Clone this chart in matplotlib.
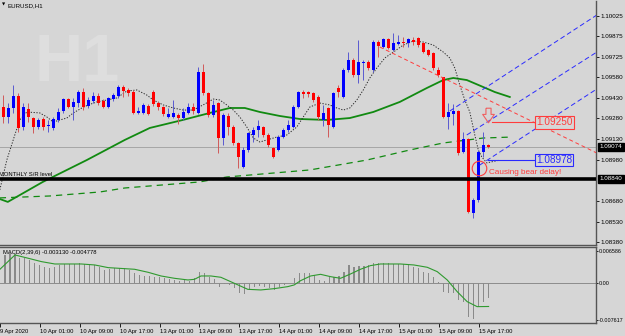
import matplotlib
matplotlib.use("Agg")
import matplotlib.pyplot as plt
import numpy as np
from matplotlib.path import Path

plt.rcParams["font.family"] = ["Liberation Sans", "DejaVu Sans"]

# EURUSD H1 candles, bar 0 = 9 Apr 18:00
opens = [
    1.09362, 1.09290, 1.09355, 1.09442, 1.09217, 1.09348, 1.09282, 1.09217, 1.09275, 1.09224,
    1.09210, 1.09268, 1.09333, 1.09420, 1.09362, 1.09391, 1.09471, 1.09369, 1.09406, 1.09442,
    1.09406, 1.09362, 1.09420, 1.09442, 1.09507, 1.09486, 1.09471, 1.09319, 1.09319, 1.09369,
    1.09471, 1.09391, 1.09362, 1.09290, 1.09290, 1.09304, 1.09282, 1.09319, 1.09362, 1.09319,
    1.09616, 1.09464, 1.09304, 1.09391, 1.09137, 1.09297, 1.09217, 1.09101, 1.08927, 1.09050,
    1.09159, 1.09195, 1.09217, 1.09159, 1.09065, 1.09050, 1.09144, 1.09195, 1.09217, 1.09362,
    1.09471, 1.09471, 1.09464, 1.09435, 1.09268, 1.09355, 1.09217, 1.09500, 1.09435, 1.09631,
    1.09703, 1.09595, 1.09682, 1.09689, 1.09631, 1.09834, 1.09798, 1.09856, 1.09776, 1.09820,
    1.09834, 1.09827, 1.09849, 1.09863, 1.09827, 1.09776, 1.09754, 1.09631, 1.09580, 1.09290,
    1.09311, 1.09333, 1.09036, 1.09130, 1.08593, 1.08687, 1.09036, 1.09083,
]
highs = [
    1.09449, 1.09391, 1.09522, 1.09464, 1.09391, 1.09391, 1.09290, 1.09282, 1.09290, 1.09268,
    1.09290, 1.09355, 1.09428, 1.09428, 1.09428, 1.09486, 1.09500, 1.09435, 1.09471, 1.09464,
    1.09420, 1.09435, 1.09464, 1.09522, 1.09522, 1.09500, 1.09486, 1.09362, 1.09391, 1.09384,
    1.09486, 1.09406, 1.09369, 1.09355, 1.09413, 1.09319, 1.09355, 1.09391, 1.09391, 1.09653,
    1.09674, 1.09471, 1.09413, 1.09399, 1.09319, 1.09319, 1.09232, 1.09108, 1.09072, 1.09181,
    1.09217, 1.09268, 1.09224, 1.09173, 1.09072, 1.09159, 1.09210, 1.09268, 1.09377, 1.09478,
    1.09486, 1.09478, 1.09471, 1.09449, 1.09377, 1.09362, 1.09471, 1.09522, 1.09645, 1.09761,
    1.09718, 1.09849, 1.09703, 1.09703, 1.09849, 1.09849, 1.09863, 1.09863, 1.09899, 1.09885,
    1.09870, 1.09863, 1.09870, 1.09870, 1.09834, 1.09783, 1.09761, 1.09653, 1.09580, 1.09391,
    1.09384, 1.09340, 1.09181, 1.09137, 1.08702, 1.09050, 1.09181, 1.09094,
]
lows = [
    1.09246, 1.09246, 1.09319, 1.09181, 1.09195, 1.09253, 1.09173, 1.09203, 1.09195, 1.09181,
    1.09195, 1.09253, 1.09319, 1.09355, 1.09268, 1.09362, 1.09340, 1.09355, 1.09391, 1.09377,
    1.09355, 1.09355, 1.09406, 1.09428, 1.09435, 1.09442, 1.09311, 1.09311, 1.09311, 1.09304,
    1.09369, 1.09340, 1.09297, 1.09282, 1.09282, 1.09239, 1.09268, 1.09311, 1.09311, 1.09311,
    1.09449, 1.09290, 1.09290, 1.09028, 1.09086, 1.09159, 1.09086, 1.08919, 1.08919, 1.09036,
    1.09108, 1.09144, 1.09144, 1.09072, 1.08992, 1.09043, 1.09137, 1.09181, 1.09210, 1.09355,
    1.09428, 1.09435, 1.09399, 1.09268, 1.09224, 1.09144, 1.09210, 1.09435, 1.09428, 1.09616,
    1.09580, 1.09536, 1.09558, 1.09631, 1.09616, 1.09725, 1.09790, 1.09783, 1.09769, 1.09812,
    1.09798, 1.09798, 1.09812, 1.09798, 1.09754, 1.09732, 1.09631, 1.09580, 1.09282, 1.09203,
    1.09232, 1.09014, 1.09028, 1.08593, 1.08556, 1.08673, 1.08999, 1.09065,
]
closes = [
    1.09290, 1.09355, 1.09442, 1.09210, 1.09362, 1.09290, 1.09217, 1.09268, 1.09217, 1.09232,
    1.09275, 1.09326, 1.09420, 1.09362, 1.09399, 1.09471, 1.09362, 1.09413, 1.09442, 1.09391,
    1.09362, 1.09428, 1.09449, 1.09507, 1.09478, 1.09464, 1.09319, 1.09333, 1.09377, 1.09311,
    1.09384, 1.09362, 1.09311, 1.09311, 1.09319, 1.09282, 1.09326, 1.09362, 1.09333, 1.09616,
    1.09464, 1.09304, 1.09377, 1.09137, 1.09304, 1.09217, 1.09101, 1.08999, 1.09050, 1.09173,
    1.09195, 1.09224, 1.09159, 1.09086, 1.08999, 1.09144, 1.09195, 1.09232, 1.09362, 1.09471,
    1.09457, 1.09457, 1.09413, 1.09290, 1.09319, 1.09232, 1.09464, 1.09471, 1.09631, 1.09703,
    1.09595, 1.09689, 1.09689, 1.09645, 1.09834, 1.09805, 1.09856, 1.09790, 1.09827, 1.09834,
    1.09827, 1.09856, 1.09834, 1.09812, 1.09761, 1.09740, 1.09645, 1.09595, 1.09290, 1.09326,
    1.09333, 1.09028, 1.09130, 1.08600, 1.08687, 1.09036, 1.09083, 1.09074,
]

# MACD(2,39,6) histogram, one value per bar
macd_hist = [
    0.00584, 0.00618, 0.00605, 0.00515, 0.00515, 0.00481, 0.00412, 0.00378, 0.00344, 0.00309,
    0.00344, 0.00378, 0.00398, 0.00398, 0.00398, 0.00412, 0.00398, 0.00378, 0.00378, 0.00344,
    0.00275, 0.00289, 0.00309, 0.00309, 0.00309, 0.00275, 0.00206, 0.00172, 0.00151, 0.00151,
    0.00137, 0.00124, 0.00103, 0.00082, 0.00069, 0.00055, 0.00069, 0.00055, 0.00103, 0.00240,
    0.00206, 0.00137, 0.00082, -0.00069, -0.00020, -0.00034, -0.00103, -0.00206, -0.00220, -0.00137,
    -0.00069, -0.00055, -0.00069, -0.00103, -0.00137, -0.00069, -0.00034, 0.00010, 0.00103, 0.00206,
    0.00220, 0.00206, 0.00172, 0.00069, 0.00055, 0.00137, 0.00137, 0.00151, 0.00240, 0.00378,
    0.00344, 0.00357, 0.00357, 0.00378, 0.00412, 0.00412, 0.00412, 0.00412, 0.00398, 0.00398,
    0.00398, 0.00378, 0.00344, 0.00309, 0.00240, 0.00206, 0.00124, 0.00034, -0.00172, -0.00206,
    -0.00206, -0.00344, -0.00378, -0.00687, -0.00742, -0.00481, -0.00378, -0.00313,
]
signal_bars = [-1, 2, 4.7, 7.3, 10, 15.3, 18, 20.7, 26, 28.7, 31.3, 34, 36.7, 38, 39.3, 41.3,
               43.3, 46, 48.7, 51.3, 54, 56.7, 58, 59.3, 61.3, 63.3, 65.3, 67.3, 69.3, 71.3,
               73.3, 75.3, 79.3, 82, 84.7, 86.7, 88.7, 90.7, 92.7, 94.7, 97]
signal_vals = [0.00290, 0.00584, 0.00515, 0.00447, 0.00398, 0.00398, 0.00378, 0.00323, 0.00289,
               0.00227, 0.00151, 0.00103, 0.00069, 0.00082, 0.00151, 0.00151, 0.00124, 0.0,
               -0.00124, -0.00137, -0.00110, -0.00069, -0.00034, 0.00055, 0.00151, 0.00185,
               0.00137, 0.00103, 0.00192, 0.00289, 0.00364, 0.00398, 0.00398, 0.00378, 0.00330,
               0.00240, 0.00069, -0.00172, -0.00378, -0.00481, -0.004778]

# moving averages (sampled along the drawn curves)
ma_fast_bars = [-0.7, 0.9, 7.9, 16.7, 24.3, 29.3, 35.9, 41.3, 45.3, 48.3, 51.3, 55.3, 59.3,
                64.7, 69.3, 74, 79.3, 84.7, 88, 90, 92.7, 96, 98.3, 101.3]
ma_fast_vals = [1.08694, 1.08673, 1.08818, 1.08977, 1.09123, 1.09210, 1.09268, 1.09319, 1.09355,
                1.09355, 1.09326, 1.09297, 1.09275, 1.09268, 1.09282, 1.09326, 1.09399, 1.09500,
                1.09558, 1.09573, 1.09558, 1.09507, 1.09471, 1.09435]
ma_slow_bars = [-0.7, 9.3, 19.3, 24.3, 39.3, 44.7, 61.3, 72.7, 81.3, 88, 96, 101.7]
ma_slow_vals = [1.08702, 1.08716, 1.08745, 1.08774, 1.08818, 1.08854, 1.08905, 1.08977,
                1.09050, 1.09101, 1.09137, 1.09144]
centered_bars = [-0.7, 0.7, 2.3, 3.3, 4.7, 7.3, 8.7, 10, 11.3, 12.7, 14, 15.7, 17, 18.7, 20.7,
                 22.7, 24.7, 26.7, 28.7, 30, 32, 34, 36, 38, 40.3, 42, 43.3, 44.7, 46, 47.3,
                 48.7, 50, 51.3, 52.7, 54.7, 56.7, 58.7, 60, 61.3, 63.3, 65.3, 66.7, 68, 69.3,
                 70.7, 72, 73.3, 74.7, 76.3, 78, 80, 82, 84, 86, 88, 89.3, 90.3, 91.3, 92.3,
                 93.3, 94.3, 95, 95.7, 96.7, 99.3]
centered_vals = [1.08760, 1.08977, 1.09159, 1.09268, 1.09326, 1.09319, 1.09290, 1.09253, 1.09268,
                 1.09282, 1.09319, 1.09355, 1.09377, 1.09399, 1.09413, 1.09428, 1.09478, 1.09486,
                 1.09449, 1.09413, 1.09377, 1.09355, 1.09340, 1.09340, 1.09384, 1.09420, 1.09413,
                 1.09377, 1.09340, 1.09290, 1.09217, 1.09137, 1.09108, 1.09123, 1.09144, 1.09159,
                 1.09217, 1.09290, 1.09362, 1.09391, 1.09377, 1.09355, 1.09340, 1.09355, 1.09413,
                 1.09486, 1.09573, 1.09645, 1.09718, 1.09761, 1.09812, 1.09841, 1.09834, 1.09812,
                 1.09761, 1.09718, 1.09645, 1.09522, 1.09413, 1.09326, 1.09159, 1.09050, 1.08999,
                 1.08956, 1.08977]

# drawn objects
sr_level = 1.08840
last_price = 1.09074
target_level = 1.09250
support_level = 1.08978
red_trend_bars = [75.3, 118.7]
red_trend_vals = [1.09798, 1.09028]
channel_bars = [[89.3, 118.7], [92.7, 118.7], [95.3, 118.7]]
channel_vals = [[1.09333, 1.10030], [1.09159, 1.09761], [1.08941, 1.09493]]
arrow_bar, arrow_price = 97, 1.09304
circle_bar, circle_price = 95.1, 1.08919
note_bar, note_price = 97.1, 1.08890

price_ticks = [1.10025, 1.09875, 1.09725, 1.09580, 1.09430, 1.09280, 1.09130, 1.08980,
               1.08680, 1.08530, 1.08380]
macd_ticks = [0.006586, 0.0, -0.007617]
macd_tick_labels = ["0.006586", "0.00", "-0.007617"]
date_bars = [-1, 7, 15, 23, 31, 39, 47, 55, 63, 71, 79, 87, 95]
date_labels = ["9 Apr 2020", "10 Apr 01:00", "10 Apr 09:00", "10 Apr 17:00", "13 Apr 01:00",
               "13 Apr 09:00", "13 Apr 17:00", "14 Apr 01:00", "14 Apr 09:00", "14 Apr 17:00",
               "15 Apr 01:00", "15 Apr 09:00", "15 Apr 17:00"]

W, H = 625, 336
BG = "#d6d6d6"
FRAME = "#555555"
BULL, BEAR = "#0000ff", "#ff0000"
GREEN = "#118a11"
RED_OBJ = "#ff3c3c"
BLUE_OBJ = "#2a2aff"


def rect(x0, y0, x1, y1):
    # pixel box -> figure fraction
    return [x0 / W, 1 - y1 / H, (x1 - x0) / W, (y1 - y0) / H]


fig = plt.figure(figsize=(W / 100, H / 100), dpi=100, facecolor=BG)
ax = fig.add_axes(rect(0, 1, 596, 245), facecolor=BG)
axm = fig.add_axes(rect(0, 247, 596, 323), facecolor=BG)

x_min, x_max = -0.66, 118.54
ax.set_xlim(x_min, x_max)
ax.set_ylim(1.08360, 1.10132)
axm.set_xlim(x_min, x_max)
axm.set_ylim(-0.00818, 0.00748)

# ---- main price window ----
ax.text(0.058, 0.672, "H1", transform=ax.transAxes, fontsize=48, fontweight="bold",
        color="#dedede", zorder=0, va="baseline", family="Liberation Sans")

ax.axhline(last_price, color="#a6a6a6", lw=0.7, zorder=1)

ax.plot(ma_slow_bars, ma_slow_vals, color=GREEN, lw=0.9, dashes=(5, 4), zorder=2)
ax.plot(ma_fast_bars, ma_fast_vals, color=GREEN, lw=1.3, zorder=2)
ax.plot(centered_bars, centered_vals, color="#2a2a2a", lw=0.7, dashes=(1.3, 1.6), zorder=2)

o = np.array(opens)
h = np.array(highs)
l = np.array(lows)
c = np.array(closes)
idx = np.arange(len(o))
up = c >= o
wick_cols = np.where(up, "#5a5ad0", "#d05a5a")
body_cols = np.where(up, BULL, BEAR)
ax.vlines(idx, l, h, colors=wick_cols, lw=0.7, zorder=3)
ax.bar(idx, np.maximum(np.abs(c - o), 0.00006), bottom=np.minimum(o, c), width=0.6,
       color=body_cols, lw=0, zorder=3.5)

ax.plot(red_trend_bars, red_trend_vals, color=RED_OBJ, lw=0.7, dashes=(4, 3), zorder=4)
for bx, by in zip(channel_bars, channel_vals):
    ax.plot(bx, by, color=BLUE_OBJ, lw=0.7, dashes=(5, 3), zorder=4)

ax.axhline(sr_level, color="black", lw=2.6, zorder=5)
ax.annotate("MONTHLY S/R level", xy=(0, sr_level), xycoords=ax.get_yaxis_transform(),
            xytext=(-1, 1.6), textcoords="offset points", fontsize=4.2, va="bottom",
            ha="left", color="black", zorder=6)

# hollow down arrow
arrow = Path([(-0.35, 1), (0.35, 1), (0.35, 0.15), (0.8, 0.15), (0, -1), (-0.8, 0.15),
              (-0.35, 0.15), (-0.35, 1)])
ax.plot(arrow_bar, arrow_price, marker=arrow, ms=10.5, mfc="none", mec="#f06060", mew=0.8,
        zorder=6)

ax.plot([97.7, 106.3], [target_level] * 2, color=RED_OBJ, lw=0.8, zorder=6)
ax.text(106.5, target_level, "1.09250", fontsize=7.2, color=RED_OBJ, va="center", ha="left",
        zorder=7, bbox=dict(boxstyle="square,pad=0.12", fc=BG, ec=RED_OBJ, lw=0.8))
ax.plot([97, 106.3], [support_level] * 2, color=BLUE_OBJ, lw=0.8, zorder=6)
ax.text(106.5, support_level, "1.08978", fontsize=7.2, color=BLUE_OBJ, va="center", ha="left",
        zorder=7, bbox=dict(boxstyle="square,pad=0.12", fc=BG, ec=BLUE_OBJ, lw=0.8))

ax.plot(circle_bar, circle_price, marker="o", ms=10.5, mfc="none", mec=RED_OBJ, mew=0.8,
        zorder=6)
ax.text(note_bar, note_price, "Causing bear delay!", fontsize=5.9, color=RED_OBJ,
        va="center", ha="left", zorder=7)

ax.text(0.004, 0.984, "\u25BC", transform=ax.transAxes, fontsize=3, va="center", ha="left",
        family="DejaVu Sans")
ax.text(0.013, 0.982, "EURUSD,H1", transform=ax.transAxes, fontsize=4.4, va="center",
        ha="left")

ax.yaxis.tick_right()
ax.set_yticks(price_ticks)
ax.set_yticklabels([f"{p:.5f}" for p in price_ticks])
ax.tick_params(axis="y", length=2, width=0.6, pad=1.2, labelsize=4.5, colors="black")
ax.tick_params(axis="x", bottom=False, labelbottom=False)
for lvl in (last_price, sr_level):
    ax.text(1.006, lvl, f"{lvl:.5f}", transform=ax.get_yaxis_transform(), fontsize=4.5,
            color="white", va="center", ha="left", clip_on=False,
            bbox=dict(boxstyle="square,pad=0.25", fc="black", ec="black"))

for name in ("top", "left"):
    ax.spines[name].set_visible(False)
for name in ("right", "bottom"):
    ax.spines[name].set_color(FRAME)
    ax.spines[name].set_linewidth(1)

# ---- MACD window ----
axm.axhline(0, color="#8c8c8c", lw=0.7, zorder=1)
axm.bar(idx, macd_hist, width=0.22, color="#8a8a8a", lw=0, zorder=2)
axm.plot(signal_bars, signal_vals, color="#2f9a2f", lw=0.8, zorder=3)
axm.text(0.005, 0.925, "MACD(2,39,6) -0.003130 -0.004778", transform=axm.transAxes,
         fontsize=4.2, va="center", ha="left")

axm.yaxis.tick_right()
axm.set_yticks(macd_ticks)
axm.set_yticklabels(macd_tick_labels)
axm.tick_params(axis="y", length=1.5, width=0.6, pad=0.6, labelsize=3.9, colors="black")
axm.set_xticks(date_bars)
axm.set_xticklabels(date_labels)
axm.tick_params(axis="x", length=3, width=0.6, pad=1.0, labelsize=4.2, colors="black")
for lbl in axm.get_xticklabels():
    lbl.set_horizontalalignment("left")
axm.spines["left"].set_visible(False)
for name in ("top", "right", "bottom"):
    axm.spines[name].set_color(FRAME)
    axm.spines[name].set_linewidth(1)

fig.savefig("out.png", dpi=100, facecolor=BG)
